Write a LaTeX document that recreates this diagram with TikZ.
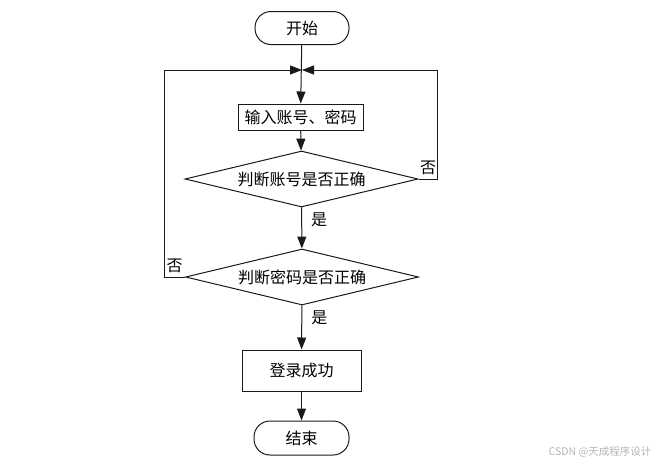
\documentclass[tikz,border=0pt]{standalone}
\usepackage{fontspec}
\setmainfont{Noto Sans CJK SC}
\usetikzlibrary{arrows.meta,positioning,shapes.geometric}
\definecolor{lnblack}{HTML}{1A1A1A}
\definecolor{wmgrey}{HTML}{B4B4B4}
\tikzset{
  >={Triangle[length=12pt,width=9pt]},
  font=\fontsize{16}{19}\selectfont,
  terminal/.style={draw=lnblack,line width=1pt,rounded corners=16pt,fill=white,
                   minimum width=94pt,minimum height=33pt,inner sep=0pt},
  box/.style={draw=lnblack,line width=1pt,fill=white,inner sep=0pt,align=center},
  decision/.style={draw=lnblack,line width=1pt,diamond,aspect=4.16,fill=white,
                   inner sep=0pt,minimum width=233pt,minimum height=56pt},
  flow/.style={->,line width=1pt,draw=lnblack},
  flowlbl/.style={inner sep=1pt},
  note/.style={font=\fontsize{10.5}{12}\selectfont,text=wmgrey},
}
\begin{document}
\begin{tikzpicture}[x=1pt,y=-1pt]
  \useasboundingbox (0,0) rectangle (662,469);

  \node[terminal] (start) at (302,28) {开始};
  \coordinate (join) at (302,70);
  \node[box,minimum width=125pt,minimum height=26pt] (input) at (300.5,117) {输入账号、密码};
  \node[decision] (chkacc) at (301.5,179) {判断账号是否正确};
  \node[decision] (chkpwd) at (302,277) {判断密码是否正确};
  \node[box,minimum width=119pt,minimum height=41pt] (ok) at (301.5,370.5) {登录成功};
  \node[terminal,minimum width=95pt,minimum height=34pt] (stop) at (301.5,438) {结束};

  \draw[flow] (start) -- (input);
  \draw[flow] (input) -- (chkacc);
  \draw[flow] (chkacc) -- node[flowlbl,right=8pt,pos=0.3]{是} (chkpwd);
  \draw[flow] (chkpwd) -- node[flowlbl,right=8pt,pos=0.29]{是} (ok);
  \draw[flow] (ok) -- (stop);

  % both "no" branches go back up to the input step
  \draw[flow] (chkacc.east) -- node[flowlbl,above=3pt]{否} ++(19,0) |- (join);
  \draw[flow] (chkpwd.west) -- node[flowlbl,above=3pt]{否} ++(-21,0) |- (join);

  \node[note,anchor=east] (mark) at (655,452) {CSDN @天成程序设计};
\end{tikzpicture}
\end{document}
